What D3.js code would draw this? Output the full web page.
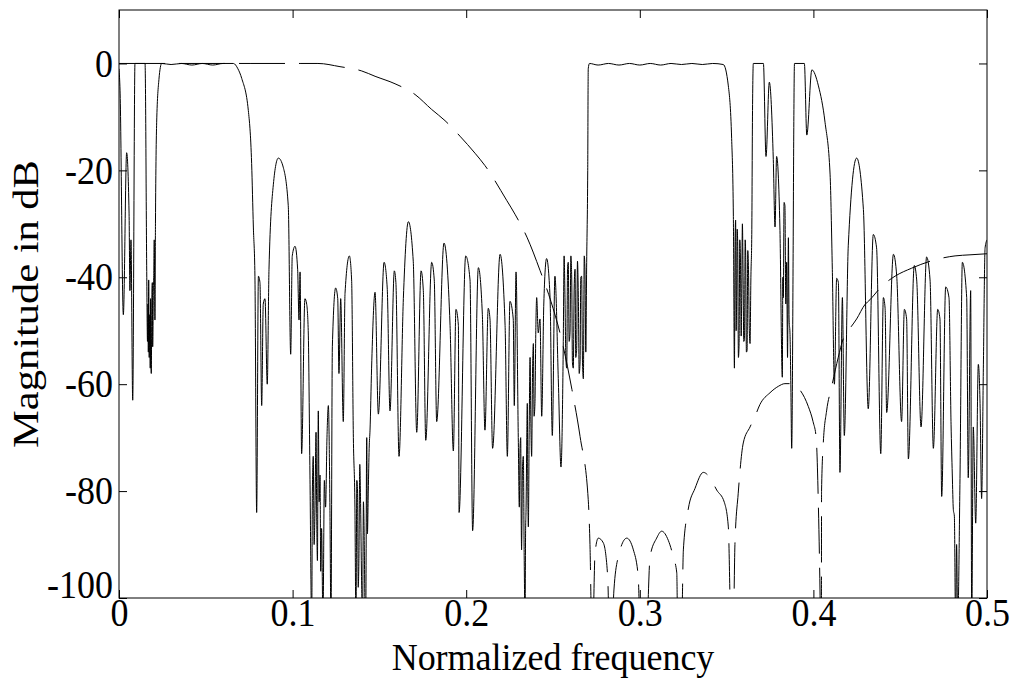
<!DOCTYPE html>
<html>
<head>
<meta charset="utf-8">
<script src="https://cdn.jsdelivr.net/npm/d3@7/dist/d3.min.js"></script>
<style>
  body { margin: 0; background: #fff; }
  text { font-family: "Liberation Serif", "Times New Roman", serif; fill: #000; }
</style>
</head>
<body>
<div id="chart"></div>
<script>
// tick values
const freqTicks = [0, 0.1, 0.2, 0.3, 0.4, 0.5];
const dbTicks = [-100, -80, -60, -40, -20, 0];

// solid response (normalized frequency, dB)
const solidFreq = [
  0.0000, 0.0006, 0.0025, 0.0044, 0.0058, 0.0063, 0.0069, 0.0079, 0.0092, 0.0120,
  0.0150, 0.0160, 0.0164, 0.0167, 0.0169, 0.0171, 0.0174, 0.0177, 0.0180, 0.0182,
  0.0184, 0.0186, 0.0189, 0.0192, 0.0194, 0.0196, 0.0198, 0.0200,
  0.0203, 0.0207, 0.0210, 0.0217, 0.0230, 0.0246, 0.0300, 0.0360, 0.0420, 0.0480,
  0.0540, 0.0600, 0.0659, 0.0685, 0.0707, 0.0745, 0.0764, 0.0774, 0.0783, 0.0793,
  0.0803, 0.0812, 0.0822, 0.0831, 0.0841, 0.0854, 0.0864, 0.0889, 0.0918, 0.0946,
  0.0975, 0.0989, 0.0998, 0.1014, 0.1029, 0.1037, 0.1043, 0.1052, 0.1071, 0.1081,
  0.1090, 0.1100, 0.1110, 0.1114, 0.1119, 0.1124, 0.1129, 0.1135, 0.1139, 0.1143,
  0.1148, 0.1153, 0.1158, 0.1162, 0.1167,
  0.1175, 0.1183, 0.1190, 0.1198, 0.1206, 0.1215, 0.1221, 0.1229, 0.1248, 0.1260,
  0.1267, 0.1277, 0.1292, 0.1302, 0.1327, 0.1340, 0.1350, 0.1359, 0.1365, 0.1370,
  0.1374, 0.1378, 0.1382, 0.1387, 0.1392, 0.1397,
  0.1403, 0.1408, 0.1413, 0.1417, 0.1421, 0.1427, 0.1431, 0.1436, 0.1441, 0.1446,
  0.1455, 0.1475, 0.1494, 0.1527,
  0.1545, 0.1561, 0.1586, 0.1595, 0.1613, 0.1638, 0.1667, 0.1695, 0.1715, 0.1740,
  0.1753, 0.1767, 0.1801, 0.1816, 0.1830, 0.1872, 0.1907, 0.1926, 0.1941, 0.1955,
  0.1959, 0.1997, 0.2022, 0.2037, 0.2070, 0.2093, 0.2108, 0.2127, 0.2137, 0.2152,
  0.2195, 0.2224, 0.2237, 0.2252, 0.2271, 0.2277, 0.2287, 0.2300, 0.2306, 0.2310,
  0.2314, 0.2317, 0.2319, 0.2324, 0.2329, 0.2334, 0.2339, 0.2342, 0.2345, 0.2349,
  0.2352, 0.2355, 0.2358, 0.2363, 0.2368, 0.2372, 0.2377, 0.2382, 0.2387, 0.2391,
  0.2396, 0.2401, 0.2406, 0.2415, 0.2425, 0.2435, 0.2447, 0.2463, 0.2483, 0.2496,
  0.2511, 0.2531, 0.2546, 0.2559, 0.2564, 0.2569, 0.2574, 0.2579, 0.2584, 0.2588,
  0.2593, 0.2598, 0.2603, 0.2608, 0.2612, 0.2617, 0.2622, 0.2627, 0.2631, 0.2636,
  0.2641, 0.2646, 0.2651, 0.2656, 0.2660, 0.2665, 0.2670, 0.2675, 0.2680, 0.2684,
  0.2689, 0.2694, 0.2700, 0.2703, 0.2710, 0.2760,
  0.2820, 0.2880, 0.2940, 0.3000, 0.3060, 0.3120, 0.3180, 0.3240, 0.3300, 0.3360,
  0.3420, 0.3481, 0.3510, 0.3529, 0.3539, 0.3545, 0.3549, 0.3552, 0.3555, 0.3558,
  0.3561, 0.3564, 0.3568, 0.3572, 0.3576, 0.3580, 0.3584, 0.3587, 0.3591, 0.3595,
  0.3599, 0.3603, 0.3607, 0.3610, 0.3614, 0.3618, 0.3622, 0.3626, 0.3631, 0.3635,
  0.3640, 0.3645, 0.3649,
  0.3654, 0.3712, 0.3727, 0.3746, 0.3769, 0.3779, 0.3788, 0.3807, 0.3821, 0.3824,
  0.3827, 0.3831, 0.3836, 0.3841, 0.3846, 0.3851, 0.3856, 0.3860, 0.3865, 0.3870,
  0.3875, 0.3883, 0.3887, 0.3891, 0.3948, 0.3962,
  0.3991, 0.4029, 0.4067, 0.4096, 0.4109, 0.4121, 0.4134, 0.4144, 0.4153, 0.4167,
  0.4178, 0.4201, 0.4249, 0.4288, 0.4316, 0.4345, 0.4364, 0.4388, 0.4403, 0.4413,
  0.4422, 0.4461, 0.4480, 0.4508, 0.4524, 0.4537, 0.4547, 0.4581, 0.4595, 0.4620,
  0.4652, 0.4672, 0.4691, 0.4716, 0.4729, 0.4739, 0.4762, 0.4781, 0.4793, 0.4800,
  0.4806, 0.4812, 0.4819, 0.4825, 0.4831, 0.4844, 0.4858, 0.4883, 0.4892, 0.4906,
  0.4912, 0.4921, 0.4935, 0.4950, 0.4960, 0.4969, 0.4979, 0.4989, 0.5000
];
const solidDb = [
  -1, -5, -47, -16.7, -28, -42.5, -33, -63, 0, 0,
  0, -40, -52, -45, -54, -40.5, -55, -47, -57, -44,
  -56, -58, -45, -41, -53, -49, -42, -40,
  -33, -48, -30, -11, -3, 0, -0.2, 0, -0.3, 0,
  -0.3, 0, 0, -1, -2.8, -8.8, -18.7, -30.6, -39.8, -84,
  -39.8, -41, -64, -45, -44, -60, -38.5, -22.7, -17.7, -19.4,
  -26.6, -54.4, -36, -34.2, -38.5, -48, -39, -73, -44, -45,
  -50, -77, -105, -80, -73.5, -90, -83.4, -69, -85, -93,
  -65, -82, -77, -95, -87,
  -105, -78, -83, -70, -64, -83, -105, -53, -42, -44,
  -58, -44, -67, -43, -36, -40.5, -70, -83, -105, -78,
  -80, -98, -93, -75, -83, -96,
  -105, -82, -90, -102, -105, -70, -88, -80, -72, -68.6,
  -57, -42.8, -65.6, -37.2,
  -42, -65, -38.8, -41, -73.5, -44, -29.6, -37, -69, -38.8,
  -42.5, -70.5, -37.2, -40.5, -67, -33.6, -49, -72.5, -46, -49,
  -84, -36, -40.5, -87.4, -38.2, -47, -68.6, -45.8, -47.8, -72,
  -35.7, -49, -73.5, -44.5, -47.8, -64, -39, -70, -83, -72,
  -70, -86, -91, -76, -73.5, -92, -105, -88, -83, -70,
  -63.6, -80, -86.7, -68, -55, -66, -73.5, -58, -52.4, -66,
  -63.6, -50, -43.8, -50.4, -47.8, -66, -45, -36.5, -43.8, -69.6,
  -39.8, -59.6, -75.5, -53, -36, -43.8, -55, -57, -38, -37.2,
  -52, -50.4, -36, -40.5, -56, -57, -42, -38.5, -55, -53.7,
  -37, -43.8, -58, -55.7, -40, -39.8, -56, -59, -36, -38.5,
  -54, -37.2, -20, -1, 0, -0.3,
  0, -0.3, 0, -0.3, 0, -0.3, 0, -0.2, 0, -0.2,
  0, -0.2, -4.2, -14, -28.6, -57, -33, -29.3, -50, -43.8,
  -31, -34, -55, -52.4, -33, -37.2, -51, -43.8, -30, -39.8,
  -52, -51.7, -33, -36, -54, -53.7, -35, -38.5, -50, -52.4,
  -40, -32, -10,
  0, 0, -17.4, -3.5, -18, -30.6, -17.4, -30.6, -58.7, -40,
  -43.8, -26, -26.6, -45, -37.2, -55, -32.6, -48, -50.4, -60,
  -72, -37, -12, 0, 0, -13.4,
  -1.2, -4.2, -11, -20.7, -38.5, -60, -40.2, -41, -76.5, -43.8,
  -69.6, -34, -17.7, -27.3, -64.6, -32, -34.5, -73, -43.8, -45.8,
  -65.3, -35.7, -39.8, -67, -46, -47.8, -74, -37.8, -40.5, -68,
  -36.2, -40.5, -72, -46, -47.8, -81, -41.8, -43.8, -67.6, -76.8,
  -83.4, -84.7, -105, -90, -105, -78.8, -37.2, -43.8, -77.5, -42.5,
  -105, -68, -86, -56.3, -63.6, -81.4, -57, -34.5, -33
];

// dashed response
const dashFreq = [
  0.0000, 0.0755, 0.1043, 0.1146, 0.1273, 0.1398, 0.1475, 0.1590, 0.1705, 0.1801,
  0.1878, 0.1964, 0.2051, 0.2108, 0.2233, 0.2281, 0.2350, 0.2425, 0.2488, 0.2550,
  0.2609, 0.2656, 0.2703, 0.2713, 0.2723, 0.2730, 0.2742, 0.2761, 0.2790, 0.2815,
  0.2824, 0.2840, 0.2851, 0.2876, 0.2925, 0.2963, 0.2991, 0.3001, 0.3040, 0.3059,
  0.3097, 0.3126, 0.3164, 0.3193, 0.3213, 0.3218, 0.3241, 0.3251, 0.3279, 0.3318,
  0.3366, 0.3404, 0.3443, 0.3487, 0.3510, 0.3525, 0.3539, 0.3548, 0.3567, 0.3596,
  0.3635, 0.3664, 0.3692, 0.3750, 0.3798, 0.3836, 0.3875, 0.3923, 0.3971, 0.3998,
  0.4016, 0.4028, 0.4038, 0.4041, 0.4046, 0.4047, 0.4057, 0.4076, 0.4105, 0.4143,
  0.4172, 0.4201, 0.4249, 0.4297, 0.4326, 0.4393, 0.4470, 0.4566, 0.4682, 0.4816,
  0.4902, 0.5000
];
const dashDb = [
  0, 0, 0, 0, -0.6, -1.4, -2.4, -3.8, -5.8, -8.6,
  -10.7, -13.6, -16.8, -19.1, -25.6, -28.2, -32.5, -38.7, -44.5, -51.7,
  -61, -69.8, -81.6, -90, -105, -105, -91.6, -88.8, -89.7, -96,
  -105, -105, -98.5, -92.3, -88.8, -91, -96, -105, -105, -92.3,
  -88.8, -87.5, -89.2, -92.3, -95.3, -105, -105, -91, -83.4, -79.5,
  -76.5, -77.5, -79.8, -82.1, -86.7, -105, -105, -90, -80.4, -71,
  -68, -66, -63.8, -61.6, -60.4, -59.9, -59.9, -61.1, -64.2, -67,
  -70, -81.7, -98.5, -105, -105, -80, -71, -65, -60.5, -55,
  -51.5, -50, -47.8, -45.1, -44.2, -41.7, -39.8, -38.3, -36.9, -36,
  -35.8, -35.6
];

const width = 1014, height = 681;
const margin = { top: 10, right: 27, bottom: 83, left: 119 };
const innerW = width - margin.left - margin.right;
const innerH = height - margin.top - margin.bottom;
const fontSize = 36;
const stretch = 1.1; // the original's lettering is drawn taller than wide

const svg = d3.select("#chart").append("svg")
  .attr("width", width)
  .attr("height", height);

const g = svg.append("g")
  .attr("transform", `translate(${margin.left},${margin.top})`);

const x = d3.scaleLinear().domain([0, 0.5]).range([0, innerW]);
const y = d3.scaleLinear().domain([-100, 10]).range([innerH, 0]);

g.append("clipPath").attr("id", "plotClip")
  .append("rect").attr("width", innerW).attr("height", innerH);

const line = d3.line()
  .x((d) => x(d[0]))
  .y((d) => y(d[1]))
  .curve(d3.curveMonotoneX);

const solid = solidFreq.map((f, i) => [f, solidDb[i]]);
const dashed = dashFreq.map((f, i) => [f, dashDb[i]]);

g.append("path")
  .datum(dashed)
  .attr("clip-path", "url(#plotClip)")
  .attr("fill", "none")
  .attr("stroke", "#000")
  .attr("stroke-width", 1)
  .attr("stroke-dasharray", "46,14")
  .attr("d", line);

g.append("path")
  .datum(solid)
  .attr("clip-path", "url(#plotClip)")
  .attr("fill", "none")
  .attr("stroke", "#000")
  .attr("stroke-width", 1)
  .attr("d", line);

const fmtX = (d) => (d === 0 ? "0" : d3.format(".1f")(d));
const fmtY = (d) => String(d);

// ticks point inward like the original
g.append("g")
  .attr("transform", `translate(0,${innerH})`)
  .call(d3.axisBottom(x).tickValues(freqTicks).tickFormat(fmtX)
    .tickSizeInner(-8).tickSizeOuter(0).tickPadding(0));
g.append("g")
  .call(d3.axisTop(x).tickValues(freqTicks).tickFormat("")
    .tickSizeInner(-8).tickSizeOuter(0));
const yAxis = g.append("g")
  .call(d3.axisLeft(y).tickValues(dbTicks).tickFormat(fmtY)
    .tickSizeInner(-8).tickSizeOuter(0).tickPadding(6));
g.append("g")
  .attr("transform", `translate(${innerW},0)`)
  .call(d3.axisRight(y).tickValues(dbTicks).tickFormat("")
    .tickSizeInner(-8).tickSizeOuter(0));

g.selectAll(".domain").remove();
g.selectAll(".tick line").attr("stroke", "#000");
g.selectAll(".tick text")
  .style("font-family", '"Liberation Serif", "Times New Roman", serif')
  .style("font-size", fontSize + "px")
  .attr("fill", "#000")
  .attr("transform", `scale(1,${stretch})`);

// the -100 label sits on top of its tick
yAxis.selectAll(".tick text").filter((d) => d === -100).attr("dy", "-0.02em");

g.append("rect")
  .attr("width", innerW)
  .attr("height", innerH)
  .attr("fill", "none")
  .attr("stroke", "#000")
  .attr("stroke-width", 1);

svg.append("text")
  .attr("transform", `translate(${margin.left + innerW / 2},670) scale(1,1.08)`)
  .attr("text-anchor", "middle")
  .style("font-size", fontSize + "px")
  .text("Normalized frequency");

svg.append("text")
  .attr("transform", `translate(38,${margin.top + innerH / 2}) scale(1,1.18) rotate(-90)`)
  .attr("text-anchor", "middle")
  .style("font-size", fontSize + "px")
  .text("Magnitude in dB");
</script>
</body>
</html>
